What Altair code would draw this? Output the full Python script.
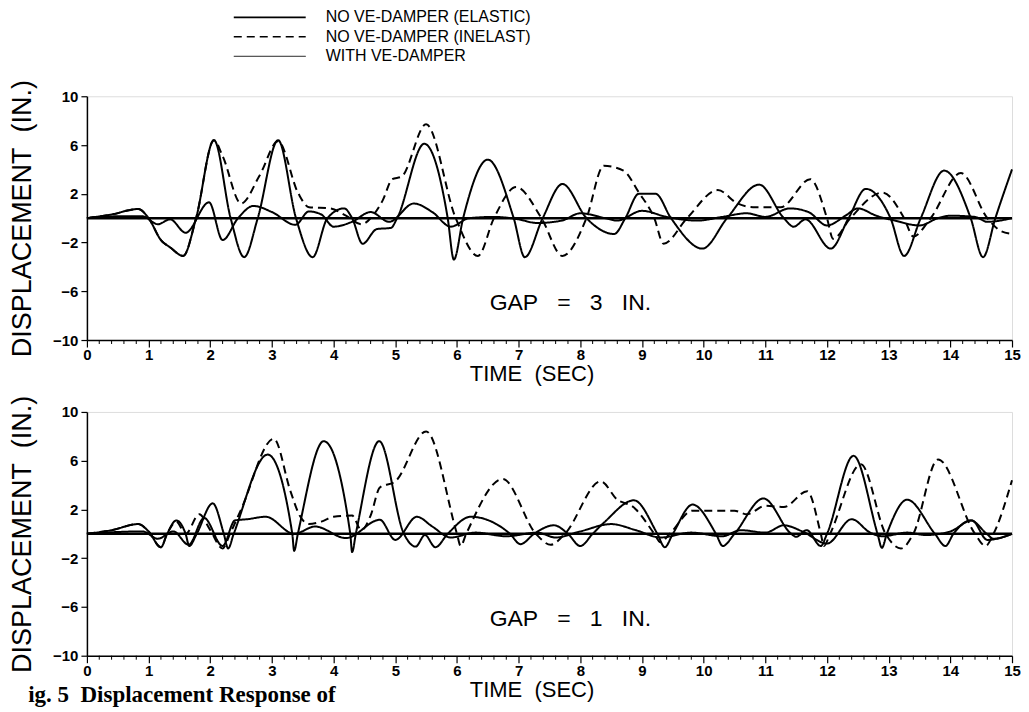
import altair as alt
import pandas as pd

SERIES = ["NO VE-DAMPER (ELASTIC)", "NO VE-DAMPER (INELAST)", "WITH VE-DAMPER"]

# ---------------- GAP = 3 IN. (top panel) ----------------
TOP_EL_T = [0, 0.4, 0.83, 1.0, 1.2, 1.35, 1.56, 1.77, 2.06, 2.33, 2.55, 2.77, 3.1, 3.39, 3.66, 3.9,
            4.17, 4.3, 4.47, 4.7, 4.93, 5.03, 5.47, 5.85, 5.95, 6.1, 6.5, 6.92, 7.1, 7.39, 7.71, 8.1,
            8.55, 8.73, 8.95, 9.22, 9.47, 9.98, 10.38, 10.9, 11.3, 11.46, 11.65, 12.06, 12.35, 12.63,
            13.03, 13.25, 13.52, 13.9, 14.33, 14.53, 14.73, 15.0]
TOP_EL_V = [0, 0.3, 0.75, 0.0, -1.8, -2.4, -3.1, 0, 6.4, 0, -3.2, 0, 6.4, 0, -3.2, 0,
            0.8, 0, -2.1, -0.9, -0.8, 0, 6.1, 0, -3.4, 0, 4.8, 0, -3.2, 0, 2.8, 0,
            -1.3, 0, 2.0, 2.0, 0, -2.5, 0, 2.75, 0, -0.7, -0.1, -2.5, 0, 2.4,
            0, -3.1, 0, 3.9, 0, -3.2, 0, 4.0]

TOP_IN_T = [0, 0.4, 0.83, 1.0, 1.2, 1.35, 1.56, 1.77, 2.06, 2.2, 2.5, 2.8, 3.1, 3.43, 3.6, 3.95,
            4.2, 4.45, 4.65, 4.8, 4.95, 5.1, 5.5, 5.98, 6.34, 6.6, 6.96, 7.37, 7.71, 8.1, 8.38, 8.7,
            8.95, 9.2, 9.35, 9.73, 10.23, 10.55, 10.8, 11.25, 11.73, 12.0, 12.1, 12.38, 12.9, 13.25,
            13.4, 13.68, 14.17, 14.6, 14.8, 15.0]
TOP_IN_V = [0, 0.3, 0.75, 0.0, -1.8, -2.4, -3.1, 0, 6.4, 5.1, 1.2, 3.5, 6.3, 2.0, 0.9, 0.8,
            0.2, -0.5, 0.3, 1.5, 3.2, 3.4, 7.7, 0, -3.1, 0, 2.55, 0, -3.1, 0, 4.3, 3.9,
            2.1, 0, -2.1, 0, 2.3, 1.2, 0.9, 0.9, 3.2, 0, -1.7, 0, 2.1, 0,
            -1.5, 0, 3.7, 0, -1.0, -1.3]

TOP_VE_T = [0, 0.5, 0.9, 1.15, 1.35, 1.6, 1.98, 2.2, 2.45, 2.7, 3.0, 3.38, 3.6, 3.8, 4.0, 4.3,
            4.6, 4.9, 5.3, 5.6, 5.9, 6.2, 6.6, 7.0, 7.3, 7.7, 8.0, 8.4, 8.6, 9.0, 9.4, 9.9, 10.3,
            10.7, 11.0, 11.4, 11.7, 12.0, 12.3, 12.5, 12.8, 13.1, 13.5, 13.8, 14.0, 14.4, 14.6, 15.0]
TOP_VE_V = [0, 0.15, 0.15, -0.5, -0.1, -1.2, 1.3, -1.8, 0, 1.0, 0.5, -0.55, 0.55, 0.3, -0.7, -0.3,
            0.5, -0.3, 1.2, 0.5, -0.7, 0, 0.1, -0.1, -0.4, -0.2, 0.4, 0, -0.2, 0.6, 0.1, -0.2, 0.1,
            0.4, 0.1, 0.8, 0.5, -0.6, 0.2, 0.8, 0.2, -0.2, -0.6, 0, 0.2, 0.1, -0.3, 0]

# ---------------- GAP = 1 IN. (bottom panel) ----------------
BOT_EL_T = [0, 0.4, 0.83, 1.0, 1.2, 1.3, 1.45, 1.6, 1.66, 1.78, 2.04, 2.22, 2.29, 2.38, 2.93, 3.33,
            3.36, 3.42, 3.84, 4.27, 4.3, 4.36, 4.74, 5.14, 5.33, 5.48, 5.65, 5.85, 6.22, 6.86, 7.03,
            7.25, 7.57, 7.8, 8.0, 8.2, 8.4, 8.87, 9.25, 9.37, 9.5, 9.82, 10.2, 10.31, 10.5, 10.97,
            11.42, 11.5, 11.67, 11.9, 12.0, 12.43, 12.82, 12.89, 12.97, 13.3, 13.75, 13.92, 14.05,
            14.33, 14.59, 14.7, 15.0]
BOT_EL_V = [0, 0.3, 0.8, 0.2, -1.1, 0, 1.1, 0, -1.0, 0, 2.5, 0, -1.2, 0, 6.5, 0,
            -1.4, 0, 7.6, 0, -1.5, 0, 7.6, 0, -1.05, -0.1, -1.1, 0, 1.4, 0, -0.85,
            0, 0.7, 0, -1.0, 0, 1.0, 2.75, 0, -1.1, 0, 2.4, 0, -1.0, 0, 2.9,
            0, -0.25, 0.3, -1.0, 0, 6.4, 0, -1.15, 0, 2.8, 0, -1.0, 0,
            1.1, 0, -0.4, 0]

BOT_IN_T = [0, 0.4, 0.83, 1.0, 1.2, 1.3, 1.45, 1.6, 1.82, 2.0, 2.2, 2.32, 2.5, 3.03, 3.3, 3.45,
            3.6, 3.8, 4.0, 4.3, 4.45, 4.6, 4.75, 5.0, 5.5, 6.0, 6.06, 6.15, 6.74, 7.28, 7.52, 7.75,
            8.33, 8.6, 8.86, 9.2, 9.3, 9.45, 9.82, 10.5, 10.7, 11.0, 11.3, 11.68, 11.9, 11.95, 12.05,
            12.55, 12.95, 13.2, 13.4, 13.8, 14.4, 14.57, 14.7, 15.0]
BOT_IN_V = [0, 0.3, 0.8, 0.2, -1.1, 0, 1.0, 0, 1.6, 0.3, -1.2, 0, 2.0, 7.8, 3.5, 1.5,
            0.8, 1.0, 1.4, 1.5, 0.3, 1.5, 3.8, 4.3, 8.4, 0, -1.0, 0, 4.5, 0, -0.9, 0,
            4.3, 2.8, 2.2, 0, -0.7, 0, 1.9, 1.9, 1.6, 2.3, 2.2, 3.5, 0, -1.0, 0,
            5.7, 0, -1.2, 0, 6.1, 0, -1.0, 0, 4.4]

BOT_VE_T = [0, 0.5, 0.9, 1.15, 1.4, 1.65, 1.9, 2.2, 2.4, 2.6, 2.9, 3.36, 3.7, 4.2, 4.75, 5.0,
            5.35, 5.6, 5.9, 6.3, 6.8, 7.3, 7.6, 8.0, 8.5, 8.9, 9.3, 9.8, 10.3, 10.6, 11.0, 11.3,
            11.6, 12.0, 12.4, 12.7, 12.9, 13.3, 13.6, 14.0, 14.35, 14.6, 15.0]
BOT_VE_V = [0, 0.15, 0.2, -0.4, 0.2, -0.9, 1.3, -1.0, 1.1, 1.2, 1.4, 0, 0.6, -0.35, 1.15, -0.5,
            1.4, 0.6, -0.3, 0.1, -0.2, 0.1, -0.3, 0.2, 0.8, 0.3, -0.3, 0.1, -0.2, 0.3, 0.1, 0.7,
            0.2, -0.8, 1.2, 0.1, -0.2, 0.1, -0.1, 0.2, 1.1, -0.5, 0]

NB = "\u00a0"
SP3 = NB * 3
GAP_LABELS = [f"GAP{SP3}={SP3}3{SP3}IN.", f"GAP{SP3}={SP3}1{SP3}IN."]
GAP_POS_T = [6.53, 6.53]
GAP_POS_V = [-7.0, -7.0]

X_MAJOR = list(range(0, 16))
X_MINOR = [round(0.2 * k, 1) for k in range(76) if k % 5 != 0]
Y_TICKS = list(range(-10, 11, 2))

FONT = "Liberation Sans, Arial"
DASHES = [[1, 0], [8, 5], [1, 0]]
WIDTHS = [2.0, 2.0, 1.2]

PW, PH = 926, 244


def series_frame(parts):
    rows = []
    for name, ts, vs in parts:
        for t, v in zip(ts, vs):
            rows.append({"t": t, "v": v, "series": name})
    return pd.DataFrame(rows)


def panel(df, gap_idx, legend=False, caption=False):
    xaxis = alt.Axis(
        values=X_MAJOR, format="d", tickSize=7,
        title=f"TIME{NB}{NB}(SEC)", titleFontSize=22, titleFont=FONT, titleFontWeight="normal",
        titleX=445,
        labelFont="Liberation Sans", labelFontSize=15, labelFontWeight="bold",
        labelOverlap=False, labelPadding=1, titlePadding=1, grid=False,
        domainColor="black", domainWidth=1.5, tickColor="black", tickWidth=1.2,
        labelColor="black", titleColor="black", labelFlush=False,
    )
    yaxis = alt.Axis(
        values=Y_TICKS,
        labelExpr="(datum.value + 10) % 4 === 0 ? datum.label : ''",
        tickSize={"condition": {"test": "(datum.value + 10) % 4 === 0", "value": 6}, "value": 4},
        title=f"DISPLACEMENT{NB}{NB}(IN.)", titleFontSize=27, titleFont=FONT, titleFontWeight="normal",
        labelFont="Liberation Sans", labelFontSize=15, labelFontWeight="bold",
        labelOverlap=False, labelPadding=3, titlePadding=16, grid=False,
        domainColor="black", domainWidth=1.5, tickColor="black", tickWidth=1.2,
        labelColor="black", titleColor="black", labelFlush=False,
    )
    x = alt.X("t:Q", scale=alt.Scale(domain=[0, 15], nice=False, zero=False), axis=xaxis)
    y = alt.Y("v:Q", scale=alt.Scale(domain=[-10, 10], nice=False), axis=yaxis)

    lines = alt.Chart(df).mark_line(interpolate="monotone", color="black").encode(
        x=x, y=y,
        detail="series:N",
        strokeDash=alt.StrokeDash("series:N", scale=alt.Scale(domain=SERIES, range=DASHES), legend=None),
        strokeWidth=alt.StrokeWidth("series:N", scale=alt.Scale(domain=SERIES, range=WIDTHS), legend=None),
    )
    minor = alt.Chart(pd.DataFrame({"t": X_MINOR})).mark_rule(color="black", strokeWidth=1).encode(
        x="t:Q", y=alt.value(PH), y2=alt.value(PH + 4))
    zero = alt.Chart(pd.DataFrame({"v": [0]})).mark_rule(color="black", strokeWidth=2.5).encode(y="v:Q")
    gap_df = pd.DataFrame({"t": [GAP_POS_T[gap_idx]], "v": [GAP_POS_V[gap_idx]], "label": [GAP_LABELS[gap_idx]]})
    gap = alt.Chart(gap_df).mark_text(align="left", baseline="middle", font=FONT, fontSize=23,
                                      color="black").encode(x="t:Q", y="v:Q", text="label:N")
    layers = [zero, lines, minor, gap]
    dummy = pd.DataFrame({"a": [0]})
    if legend:
        for i, name in enumerate(SERIES):
            yy = -79 + 19.5 * i
            layers.append(alt.Chart(dummy).mark_rule(color="black", strokeDash=DASHES[i],
                                                     strokeWidth=WIDTHS[i] * 0.8).encode(
                x=alt.value(147), x2=alt.value(219), y=alt.value(yy)))
            layers.append(alt.Chart(dummy).mark_text(align="left", baseline="middle", font=FONT,
                                                     fontSize=16, color="black").encode(
                x=alt.value(239), y=alt.value(yy), text=alt.value(name)))
    if caption:
        layers.append(alt.Chart(dummy).mark_text(align="right", baseline="middle",
                                                 font="Liberation Serif", fontWeight="bold",
                                                 fontSize=23, color="black").encode(
            x=alt.value(249), y=alt.value(283),
            text=alt.value(f"ig.{NB}5{NB}{NB}Displacement Response of")))
    return alt.layer(*layers).properties(width=PW, height=PH)


top_df = series_frame([(SERIES[0], TOP_EL_T, TOP_EL_V), (SERIES[1], TOP_IN_T, TOP_IN_V),
                       (SERIES[2], TOP_VE_T, TOP_VE_V)])
bot_df = series_frame([(SERIES[0], BOT_EL_T, BOT_EL_V), (SERIES[1], BOT_IN_T, BOT_IN_V),
                       (SERIES[2], BOT_VE_T, BOT_VE_V)])

chart = alt.vconcat(
    panel(top_df, 0, legend=True),
    panel(bot_df, 1, caption=True),
    spacing=8,
).properties(
    padding={"left": 0, "top": 0, "right": 0, "bottom": 0}
).configure_view(stroke="black", strokeWidth=1.5).configure(background="white")

chart.save("out.html", embed_options={"renderer": "svg", "actions": False})
